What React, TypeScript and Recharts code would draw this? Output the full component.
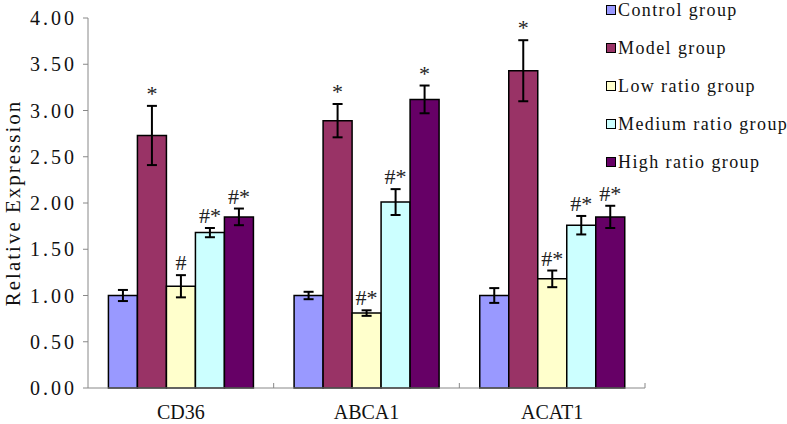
import React from 'react';
import { BarChart, Bar, XAxis, YAxis, ErrorBar, LabelList } from 'recharts';

const categories = ['CD36', 'ABCA1', 'ACAT1'];

const control = [1.0, 1.0, 1.0];
const controlErr = [0.06, 0.04, 0.08];
const model = [2.73, 2.89, 3.43];
const modelErr = [0.32, 0.18, 0.33];
const low = [1.1, 0.81, 1.18];
const lowErr = [0.12, 0.03, 0.09];
const medium = [1.68, 2.01, 1.76];
const mediumErr = [0.05, 0.14, 0.1];
const high = [1.85, 3.12, 1.85];
const highErr = [0.09, 0.15, 0.12];

const modelSig = ['*', '*', '*'];
const lowSig = ['#', '#*', '#*'];
const mediumSig = ['#*', '#*', '#*'];
const highSig = ['#*', '*', '#*'];

const yTicks = [0, 0.5, 1, 1.5, 2, 2.5, 3, 3.5, 4];

const FONT = '"Liberation Serif", "DejaVu Serif", serif';

const series = [
  { key: 'control', name: 'Control group', color: '#9999FF', values: control, errs: controlErr, sig: null },
  { key: 'model', name: 'Model group', color: '#993366', values: model, errs: modelErr, sig: modelSig },
  { key: 'low', name: 'Low ratio group', color: '#FFFFCC', values: low, errs: lowErr, sig: lowSig },
  { key: 'medium', name: 'Medium ratio group', color: '#CCFFFF', values: medium, errs: mediumErr, sig: mediumSig },
  { key: 'high', name: 'High ratio group', color: '#660066', values: high, errs: highErr, sig: highSig },
];

const data = categories.map((c, i) => {
  const row: any = { name: c };
  series.forEach((s) => {
    row[s.key] = s.values[i];
    row[s.key + 'Err'] = s.errs[i];
  });
  return row;
});

const makeSigLabel = (sig: string[], errs: number[]) => (props: any) => {
  const { x, y, width, height, value, index } = props;
  const s = sig[index];
  if (!s) return null;
  const ppu = height / value;
  const errTop = y - errs[index] * ppu;
  return (
    <text
      x={x + width / 2}
      y={errTop - 5}
      textAnchor="middle"
      fontFamily={FONT}
      fontSize={22}
      fill="#222"
    >
      {s}
    </text>
  );
};

const XTick = (props: any) => {
  const { x, y, payload, width } = props;
  const bw = (width || 557) / categories.length;
  return (
    <g>
      <line x1={x + bw / 2} y1={y} x2={x + bw / 2} y2={y - 5} stroke="#888" strokeWidth={1} />
      <text x={x} y={y + 31} textAnchor="middle" fontFamily={FONT} fontSize={20} fill="#111">
        {payload.value}
      </text>
    </g>
  );
};

const YLabel = (props: any) => {
  const vb = props.viewBox || { x: 0, y: 18, height: 370 };
  const cx = 20;
  const cy = vb.y + vb.height / 2;
  return (
    <text
      x={cx}
      y={cy}
      transform={`rotate(-90, ${cx}, ${cy})`}
      textAnchor="middle"
      fontFamily={FONT}
      fontSize={21}
      fill="#111"
      letterSpacing={2}
    >
      Relative Expression
    </text>
  );
};

const App = () => {
  return (
    <div style={{ position: 'absolute', left: 0, top: 0, width: 787, height: 424, background: '#fff' }}>
      <BarChart
        width={787}
        height={424}
        data={data}
        margin={{ top: 18, right: 142, bottom: 0, left: 0 }}
        barCategoryGap="11%"
        barGap={0}
      >
        <XAxis
          dataKey="name"
          stroke="#888"
          tickLine={false}
          tickSize={0}
          tickMargin={0}
          tick={<XTick />}
          height={36}
        />
        <YAxis
          domain={[0, 4]}
          ticks={yTicks}
          width={88}
          stroke="#888"
          tickSize={5}
          tickMargin={6}
          tickFormatter={(v: number) => v.toFixed(2)}
          tick={{ fontFamily: FONT, fontSize: 20, fill: '#111', letterSpacing: 3 }}
          label={<YLabel />}
          interval={0}
        />
        {series.map((s) => (
          <Bar
            key={s.key}
            dataKey={s.key}
            name={s.name}
            fill={s.color}
            stroke="#000"
            strokeWidth={1.5}
            isAnimationActive={false}
          >
            <ErrorBar dataKey={s.key + 'Err'} width={5} stroke="#000" strokeWidth={2} direction="y" />
            {s.sig && <LabelList dataKey={s.key} content={makeSigLabel(s.sig, s.errs)} />}
          </Bar>
        ))}
      </BarChart>
      <div style={{ position: 'absolute', left: 606, top: 0, fontFamily: FONT, fontSize: 18, color: '#111' }}>
        {series.map((s, i) => (
          <div
            key={s.key}
            style={{
              position: 'absolute',
              top: i * 38,
              left: 0,
              height: 20,
              lineHeight: '20px',
              display: 'flex',
              alignItems: 'center',
              whiteSpace: 'nowrap',
            }}
          >
            <span
              style={{
                display: 'inline-block',
                width: 8,
                height: 8,
                background: s.color,
                border: '1.5px solid #000',
                marginRight: 2,
              }}
            />
            <span style={{ letterSpacing: 1.4 }}>{s.name}</span>
          </div>
        ))}
      </div>
    </div>
  );
};

export default App;
